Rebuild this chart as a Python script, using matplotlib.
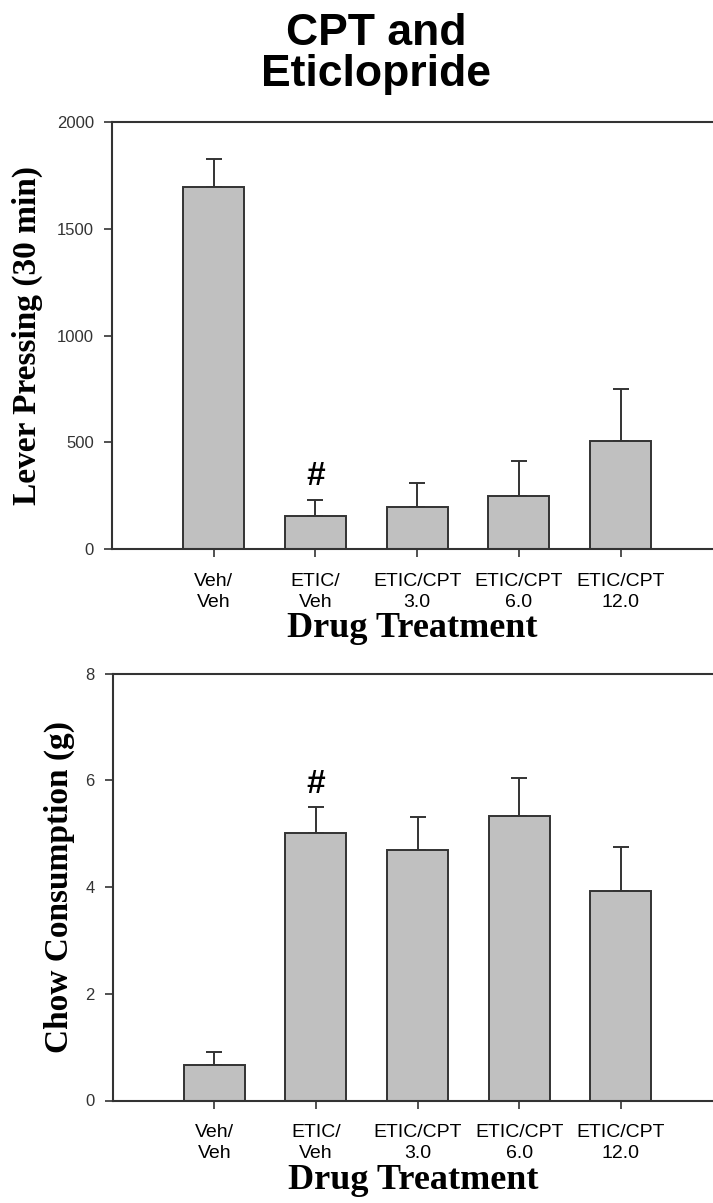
import numpy as np
import matplotlib
matplotlib.use("Agg")
import matplotlib.pyplot as plt

# Group labels along the x axis
groups = ["Veh/\nVeh", "ETIC/\nVeh", "ETIC/CPT\n3.0", "ETIC/CPT\n6.0", "ETIC/CPT\n12.0"]

# Top panel: lever pressing (30 min), mean and SEM
lever_mean = [1695, 155, 197, 250, 506]
lever_sem = [133, 73, 114, 162, 243]

# Bottom panel: chow consumption (g), mean and SEM
chow_mean = [0.67, 5.01, 4.70, 5.34, 3.93]
chow_sem = [0.23, 0.50, 0.61, 0.71, 0.82]

# index of the group marked with '#'
marked = 1

SANS = "Liberation Sans"
SERIF = "Liberation Serif"
EDGE = "#333333"
FILL = "#c0c0c0"

fig = plt.figure(figsize=(7.13, 12.03), dpi=100)

# title, two lines placed by hand
fig.text(0.527, 1 - 45 / 1203, "CPT and", ha="center", va="baseline",
         fontsize=32, fontweight="bold", family=SANS)
fig.text(0.527, 1 - 86 / 1203, "Eticlopride", ha="center", va="baseline",
         fontsize=32, fontweight="bold", family=SANS)


def draw_panel(ax, means, sems, ylim, yticks, ylabel, label_x, mark_off):
    x = np.arange(1, len(means) + 1)
    ax.bar(x, means, width=0.6, color=FILL, edgecolor=EDGE, linewidth=1.4, zorder=2)
    ax.errorbar(x, means, yerr=[np.zeros(len(sems)), sems], fmt="none",
                ecolor=EDGE, elinewidth=1.4, capsize=6, capthick=1.4, zorder=1)
    ax.set_xlim(0, 5.907)
    ax.set_ylim(*ylim)
    ax.set_yticks(yticks)
    ax.set_xticks(x)
    ax.set_xticklabels(groups, family=SANS, fontsize=14, linespacing=1.32)
    for lab in ax.get_yticklabels():
        lab.set_family(SANS)
        lab.set_fontsize(12)
        lab.set_color("#333333")
    ax.tick_params(axis="both", direction="out", length=6, width=1.2, color=EDGE)
    ax.tick_params(axis="x", pad=11)
    ax.tick_params(axis="y", pad=7)
    ax.spines["right"].set_visible(False)
    for s in ["left", "top", "bottom"]:
        ax.spines[s].set_color(EDGE)
        ax.spines[s].set_linewidth(1.5)
    ax.set_ylabel(ylabel, family=SERIF, fontweight="bold", fontsize=24)
    ax.yaxis.set_label_coords(label_x, 0.5)
    ax.set_xlabel("Drug Treatment", family=SERIF, fontweight="bold", fontsize=26,
                  labelpad=1)
    ax.annotate("#", xy=(x[marked], means[marked] + sems[marked]),
                xytext=(0, mark_off), textcoords="offset points",
                ha="center", va="bottom", fontsize=24, fontweight="bold",
                family=SANS)


ax1 = fig.add_axes([0.157, 1 - 549 / 1203, 0.843, 427 / 1203])
draw_panel(ax1, lever_mean, lever_sem, (0, 2000), [0, 500, 1000, 1500, 2000],
           "Lever Pressing (30 min)", -0.115, 6)

ax2 = fig.add_axes([0.158, 1 - 1100.5 / 1203, 0.842, 426.8 / 1203])
draw_panel(ax2, chow_mean, chow_sem, (0, 8), [0, 2, 4, 6, 8],
           "Chow Consumption (g)", -0.063, 5)

fig.savefig("out.png", dpi=100)
